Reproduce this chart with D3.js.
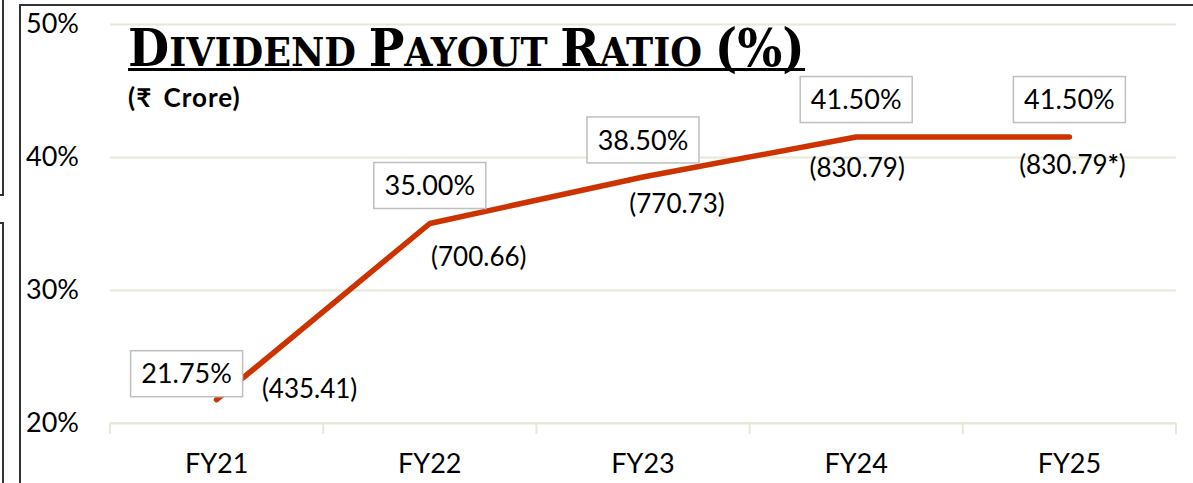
<!DOCTYPE html>
<html>
<head>
<meta charset="utf-8">
<script src="https://cdn.jsdelivr.net/npm/d3@7"></script>
<style>
  body { margin: 0; background: #fff; }
  svg { display: block; }
  text { fill: #000; }
</style>
</head>
<body>
<svg width="1193" height="483"></svg>
<script>
// data
var years = ["FY21", "FY22", "FY23", "FY24", "FY25"];
var payout = [21.75, 35.00, 38.50, 41.50, 41.50];
var dividend = ["435.41", "700.66", "770.73", "830.79", "830.79"];
var notes = ["", "", "", "", "*"];
var yTicks = [20, 30, 40, 50];

// where each label sits relative to its point
var pctOffset = [[-30, -26], [0, -38], [0, -37], [0, -37.5], [0, -37.5]];
var amtOffset = [[93, -11], [49, 33.5], [34, 27], [1, 31], [3, 28]];

var sans = "Lato, 'Noto Sans', sans-serif";

var svg = d3.select("svg"),
    width = +svg.attr("width"),
    height = +svg.attr("height");

var plotLeft = 110, plotRight = 1176, plotTop = 24, plotBottom = 423;

var x = d3.scaleBand().domain(years).range([plotLeft, plotRight]);
var y = d3.scaleLinear().domain([20, 50]).range([plotBottom, plotTop]);

// frame bits of the slide
svg.append("path")
    .attr("d", "M20,483V5H1193")
    .attr("fill", "none").attr("stroke", "#333").attr("stroke-width", 2);
svg.append("path")
    .attr("d", "M0,195H3V0M0,223H3V483")
    .attr("fill", "none").attr("stroke", "#333").attr("stroke-width", 2);

// y axis + gridlines
var yAxis = svg.append("g")
    .attr("transform", "translate(" + plotLeft + ",0)")
    .call(d3.axisLeft(y).tickValues(yTicks).tickFormat(function(d) { return d + "%"; })
      .tickSize(-(plotRight - plotLeft)).tickPadding(31));
yAxis.select(".domain").remove();
yAxis.selectAll("line").attr("stroke", "#e8e8da").attr("stroke-width", 2);
yAxis.selectAll("text").style("font-size", "27px").style("font-family", sans);

// x axis: baseline with ticks on band boundaries
var bounds = years.map(function(d) { return x(d); }).concat([plotRight]);
var xg = svg.append("g");
xg.selectAll("line").data(bounds).enter().append("line")
    .attr("x1", function(d) { return d; }).attr("x2", function(d) { return d; })
    .attr("y1", plotBottom).attr("y2", plotBottom + 11)
    .attr("stroke", "#e8e8da").attr("stroke-width", 2);
xg.append("line")
    .attr("x1", plotLeft).attr("x2", plotRight).attr("y1", plotBottom).attr("y2", plotBottom)
    .attr("stroke", "#e8e8da").attr("stroke-width", 2);

var xAxis = svg.append("g")
    .attr("transform", "translate(0," + plotBottom + ")")
    .call(d3.axisBottom(x).tickSize(0).tickPadding(31));
xAxis.select(".domain").remove();
xAxis.selectAll("text").style("font-size", "27px").style("font-family", sans);

// title, small caps squeezed to the reference width
var title = svg.append("text")
    .attr("x", 128).attr("y", 66)
    .style("font-family", "'DejaVu Serif', 'Liberation Serif', serif")
    .style("font-weight", "bold");
[["D", "IVIDEND "], ["P", "AYOUT "], ["R", "ATIO "], ["(%)", ""]].forEach(function(w) {
  title.append("tspan").style("font-size", "52px").text(w[0]);
  if (w[1]) title.append("tspan").style("font-size", "40px").text(w[1]);
});
var tw = title.node().getComputedTextLength();
title.attr("transform", "translate(128,0) scale(" + (677 / tw) + ",1) translate(-128,0)");
svg.append("line")
    .attr("x1", 128).attr("x2", 805).attr("y1", 69.5).attr("y2", 69.5)
    .attr("stroke", "#000").attr("stroke-width", 3);

svg.append("text")
    .attr("x", 128).attr("y", 107)
    .style("font-family", sans)
    .style("font-size", "26px").style("font-weight", "bold")
    .style("letter-spacing", "1px").style("word-spacing", "4px")
    .text("(\u20B9 Crore)");

// the line
var pts = years.map(function(d, i) { return [x(d) + x.bandwidth() / 2, y(payout[i])]; });
svg.append("path")
    .attr("d", d3.line()(pts))
    .attr("fill", "none")
    .attr("stroke", "#cc3300")
    .attr("stroke-width", 5.5)
    .attr("stroke-linecap", "round")
    .attr("stroke-linejoin", "round");

// percentage labels in boxes
var pl = svg.append("g").selectAll("g").data(pts).enter().append("g")
    .attr("transform", function(d, i) {
      return "translate(" + (d[0] + pctOffset[i][0]) + "," + (d[1] + pctOffset[i][1]) + ")";
    });
pl.append("rect")
    .attr("x", -56).attr("y", -23).attr("width", 112).attr("height", 46)
    .attr("fill", "#fff").attr("stroke", "#bfbfbf").attr("stroke-width", 1.5);
pl.append("text")
    .attr("text-anchor", "middle").attr("dy", "0.36em")
    .style("font-family", sans).style("font-size", "27px")
    .text(function(d, i) { return payout[i].toFixed(2) + "%"; });

// dividend amounts
var al = svg.append("g").selectAll("text").data(pts).enter().append("text")
    .attr("x", function(d, i) { return d[0] + amtOffset[i][0]; })
    .attr("y", function(d, i) { return d[1] + amtOffset[i][1]; })
    .attr("text-anchor", "middle").attr("dy", "0.36em")
    .style("font-family", sans).style("font-size", "26px");
al.append("tspan").text(function(d, i) { return "(" + dividend[i]; });
al.append("tspan").style("font-weight", "bold").text(function(d, i) { return notes[i]; });
al.append("tspan").text(")");
</script>
</body>
</html>
